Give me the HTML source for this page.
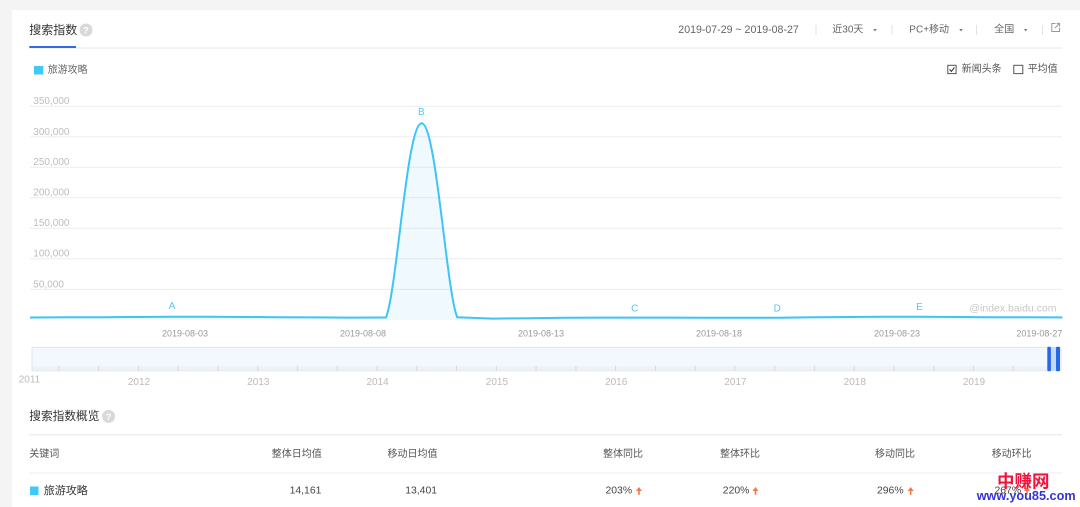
<!DOCTYPE html>
<html><head><meta charset="utf-8"><style>
html,body{margin:0;padding:0;background:#f4f4f4;}
svg{display:block;}
text{font-family:"Liberation Sans","Noto Sans CJK SC",sans-serif;}
</style></head><body>
<svg width="1080" height="507" viewBox="0 0 1080 507" xmlns="http://www.w3.org/2000/svg">
<rect x="0" y="0" width="1080" height="507" fill="#f4f4f4"/>
<rect x="12" y="10" width="1068" height="497" fill="#ffffff"/>

<!-- header -->
<rect x="29" y="47.3" width="1033" height="1.6" fill="#f0f0f0"/>
<rect x="29.3" y="46" width="46.7" height="2" fill="#2d6be6"/>
<text x="29.3" y="30" font-size="12" fill="#333" dominant-baseline="central">搜索指数</text>
<circle cx="86" cy="30" r="6.5" fill="#d9d9d9"/>
<text x="86" y="30.5" font-size="9" font-weight="bold" fill="#fff" text-anchor="middle" dominant-baseline="central">?</text>

<text x="678.3" y="30" font-size="10.6" fill="#666" dominant-baseline="central">2019-07-29 ~ 2019-08-27</text>
<rect x="815.5" y="25" width="1" height="10" fill="#e2e2e2"/>
<text x="832.3" y="30" font-size="10" fill="#666" dominant-baseline="central">近30天</text>
<path d="M873.3,29 L876.7,29 L875,31.5 Z" fill="#777"/>
<rect x="891.5" y="25" width="1" height="10" fill="#e2e2e2"/>
<text x="909.3" y="30" font-size="10" fill="#666" dominant-baseline="central">PC+移动</text>
<path d="M959.3,29 L962.7,29 L961,31.5 Z" fill="#777"/>
<rect x="976" y="25" width="1" height="10" fill="#e2e2e2"/>
<text x="994.3" y="30" font-size="10" fill="#666" dominant-baseline="central">全国</text>
<path d="M1024,29 L1027.4,29 L1025.7,31.5 Z" fill="#777"/>
<rect x="1042" y="25" width="1" height="10" fill="#e2e2e2"/>
<path d="M1055.5,23.5 L1051.8,23.5 L1051.8,31.5 L1059.6,31.5 L1059.6,27.5" fill="none" stroke="#999" stroke-width="1"/>
<path d="M1054.8,28.2 L1059.6,23.4 M1056.6,23.4 L1059.6,23.4 L1059.6,26.4" fill="none" stroke="#999" stroke-width="1"/>

<!-- legend -->
<rect x="34" y="66" width="9.3" height="8.5" fill="#3fc8f8"/>
<text x="47.7" y="70.7" font-size="10" fill="#666" dominant-baseline="central">旅游攻略</text>

<rect x="947.8" y="65.3" width="8.3" height="8.3" fill="#fff" stroke="#555" stroke-width="1"/>
<path d="M949.6,69.4 L951.4,71.4 L954.4,67.4" fill="none" stroke="#333" stroke-width="1.1"/>
<text x="961.7" y="69.5" font-size="10" fill="#555" dominant-baseline="central">新闻头条</text>
<rect x="1013.8" y="65.3" width="9" height="8.3" fill="#fff" stroke="#555" stroke-width="1"/>
<text x="1027.7" y="69.5" font-size="10" fill="#555" dominant-baseline="central">平均值</text>

<!-- gridlines -->
<g fill="#ececec">
<rect x="30" y="105.8" width="1032" height="1"/>
<rect x="30" y="136.3" width="1032" height="1"/>
<rect x="30" y="166.8" width="1032" height="1"/>
<rect x="30" y="197.2" width="1032" height="1"/>
<rect x="30" y="227.7" width="1032" height="1"/>
<rect x="30" y="258.2" width="1032" height="1"/>
<rect x="30" y="288.9" width="1032" height="1"/>
</g>
<g font-size="10" fill="#bdbdbd" dominant-baseline="central">
<text x="33.3" y="101.7">350,000</text>
<text x="33.3" y="132.3">300,000</text>
<text x="33.3" y="162.7">250,000</text>
<text x="33.3" y="193">200,000</text>
<text x="33.3" y="223.4">150,000</text>
<text x="33.3" y="254">100,000</text>
<text x="33.3" y="284.8">50,000</text>
</g>

<!-- series -->
<path d="M30,317.5 L65.6,317.3 L101.2,317.2 L136.8,317 L172.4,316.8 L208,316.8 L243.6,317 L279.2,317.2 L314.8,317.4 L350.4,317.6 L386,317.5 C397,290 407,123.3 421.6,123.3 C436.2,123.3 446.2,290 457.2,317.2 L492.8,318.6 L528.4,318.2 L564,317.8 L599.6,317.6 L635.2,317.6 L670.8,317.6 L706.4,317.7 L742,317.8 L777.6,317.8 L813.2,317.3 L848.8,317 L884.4,316.8 L920,316.8 L955.6,317 L991.2,317.2 L1026.8,317.3 L1062.4,317.4 L1062.4,320 L30,320 Z" fill="#40c4f4" fill-opacity="0.08"/>
<path d="M30,317.5 L65.6,317.3 L101.2,317.2 L136.8,317 L172.4,316.8 L208,316.8 L243.6,317 L279.2,317.2 L314.8,317.4 L350.4,317.6 L386,317.5 C397,290 407,123.3 421.6,123.3 C436.2,123.3 446.2,290 457.2,317.2 L492.8,318.6 L528.4,318.2 L564,317.8 L599.6,317.6 L635.2,317.6 L670.8,317.6 L706.4,317.7 L742,317.8 L777.6,317.8 L813.2,317.3 L848.8,317 L884.4,316.8 L920,316.8 L955.6,317 L991.2,317.2 L1026.8,317.3 L1062.4,317.4" fill="none" stroke="#3ec4f5" stroke-width="2" stroke-linejoin="round"/>

<g font-size="10" fill="#55c6ef" text-anchor="middle" dominant-baseline="central">
<text x="172" y="306.7">A</text>
<text x="421.3" y="112.5">B</text>
<text x="634.8" y="309">C</text>
<text x="777.2" y="309">D</text>
<text x="919.5" y="307.6">E</text>
</g>
<text x="1056.5" y="308.6" font-size="10.5" fill="#c8c8c8" text-anchor="end" dominant-baseline="central">@index.baidu.com</text>

<g font-size="9" fill="#999" text-anchor="end" dominant-baseline="central">
<text x="208" y="333.4">2019-08-03</text>
<text x="386" y="333.4">2019-08-08</text>
<text x="564" y="333.4">2019-08-13</text>
<text x="742" y="333.4">2019-08-18</text>
<text x="920" y="333.4">2019-08-23</text>
<text x="1062.4" y="333.4">2019-08-27</text>
</g>

<!-- datazoom slider -->
<rect x="32" y="347.3" width="1029" height="23.5" fill="#f3f8fe" stroke="#e1e5ea" stroke-width="1"/>
<rect x="32.5" y="366.3" width="1028" height="4" fill="#eef1f6"/>
<g fill="#d8d8d8">
<rect x="58.3" y="366" width="1" height="5"/><rect x="98.1" y="366" width="1" height="5"/><rect x="137.9" y="366" width="1" height="5"/><rect x="177.6" y="366" width="1" height="5"/><rect x="217.4" y="366" width="1" height="5"/><rect x="257.2" y="366" width="1" height="5"/><rect x="297" y="366" width="1" height="5"/><rect x="336.7" y="366" width="1" height="5"/><rect x="376.5" y="366" width="1" height="5"/><rect x="416.3" y="366" width="1" height="5"/><rect x="456" y="366" width="1" height="5"/><rect x="495.8" y="366" width="1" height="5"/><rect x="535.6" y="366" width="1" height="5"/><rect x="575.4" y="366" width="1" height="5"/><rect x="615.1" y="366" width="1" height="5"/><rect x="654.9" y="366" width="1" height="5"/><rect x="694.7" y="366" width="1" height="5"/><rect x="734.4" y="366" width="1" height="5"/><rect x="774.2" y="366" width="1" height="5"/><rect x="814" y="366" width="1" height="5"/><rect x="853.8" y="366" width="1" height="5"/><rect x="893.5" y="366" width="1" height="5"/><rect x="933.3" y="366" width="1" height="5"/><rect x="973.1" y="366" width="1" height="5"/><rect x="1012.8" y="366" width="1" height="5"/>
</g>
<rect x="1050.7" y="347.3" width="5.3" height="23.5" fill="#c5daf7"/>
<rect x="1047.3" y="346.8" width="3.6" height="24.5" rx="1.2" fill="#2568e8"/>
<rect x="1056" y="346.8" width="4" height="24.5" rx="1.2" fill="#2568e8"/>

<g font-size="10" fill="#bbb" text-anchor="middle" dominant-baseline="central">
<text x="29.5" y="380">2011</text>
<text x="139" y="382.3">2012</text>
<text x="258.3" y="382.3">2013</text>
<text x="377.6" y="382.3">2014</text>
<text x="496.9" y="382.3">2015</text>
<text x="616.2" y="382.3">2016</text>
<text x="735.5" y="382.3">2017</text>
<text x="854.8" y="382.3">2018</text>
<text x="974" y="382.3">2019</text>
</g>

<!-- overview table -->
<text x="29.3" y="416.4" font-size="11.7" fill="#333" dominant-baseline="central">搜索指数概览</text>
<circle cx="108.6" cy="416.4" r="6.5" fill="#d9d9d9"/>
<text x="108.6" y="416.9" font-size="9" font-weight="bold" fill="#fff" text-anchor="middle" dominant-baseline="central">?</text>
<rect x="29" y="434.3" width="1033" height="1" fill="#e6e6e6"/>
<rect x="29" y="472.5" width="1033" height="1" fill="#eeeeee"/>

<g font-size="10" fill="#555" dominant-baseline="central">
<text x="29.3" y="454.3">关键词</text>
<text x="321.8" y="454.3" text-anchor="end">整体日均值</text>
<text x="437.5" y="454.3" text-anchor="end">移动日均值</text>
<text x="603" y="454.3">整体同比</text>
<text x="720" y="454.3">整体环比</text>
<text x="875" y="454.3">移动同比</text>
<text x="991.7" y="454.3">移动环比</text>
</g>

<rect x="30" y="486.5" width="8.5" height="8.5" fill="#3fc8f8"/>
<text x="43.8" y="490.9" font-size="11" fill="#333" dominant-baseline="central">旅游攻略</text>
<g font-size="10.4" fill="#444" dominant-baseline="central">
<text x="321.4" y="490.9" text-anchor="end">14,161</text>
<text x="437" y="490.9" text-anchor="end">13,401</text>
<text x="605.5" y="490.9">203%</text>
<text x="722.8" y="490.9">220%</text>
<text x="877" y="490.9">296%</text>
<text x="994.5" y="490.9">267%</text>
</g>
<g fill="#f2774e">
<path d="M636,491 L639,487 L642,491 Z"/><rect x="638.2" y="490.5" width="1.6" height="4.3"/>
<path d="M752.5,491 L755.5,487 L758.5,491 Z"/><rect x="754.7" y="490.5" width="1.6" height="4.3"/>
<path d="M907.7,491 L910.7,487 L913.7,491 Z"/><rect x="909.9" y="490.5" width="1.6" height="4.3"/>
<path d="M1024,491 L1027,487 L1030,491 Z"/><rect x="1026.2" y="490.5" width="1.6" height="4.3"/>
</g>

<!-- watermark -->
<text x="997" y="481" font-size="17.5" font-weight="bold" fill="#f0143c" dominant-baseline="central" style="font-family:'Noto Sans CJK SC','WenQuanYi Zen Hei',sans-serif">中赚网</text>
<text x="976.7" y="495.8" font-size="12.7" font-weight="bold" fill="#3434d4" dominant-baseline="central">www.you85.com</text>
</svg>
</body></html>
